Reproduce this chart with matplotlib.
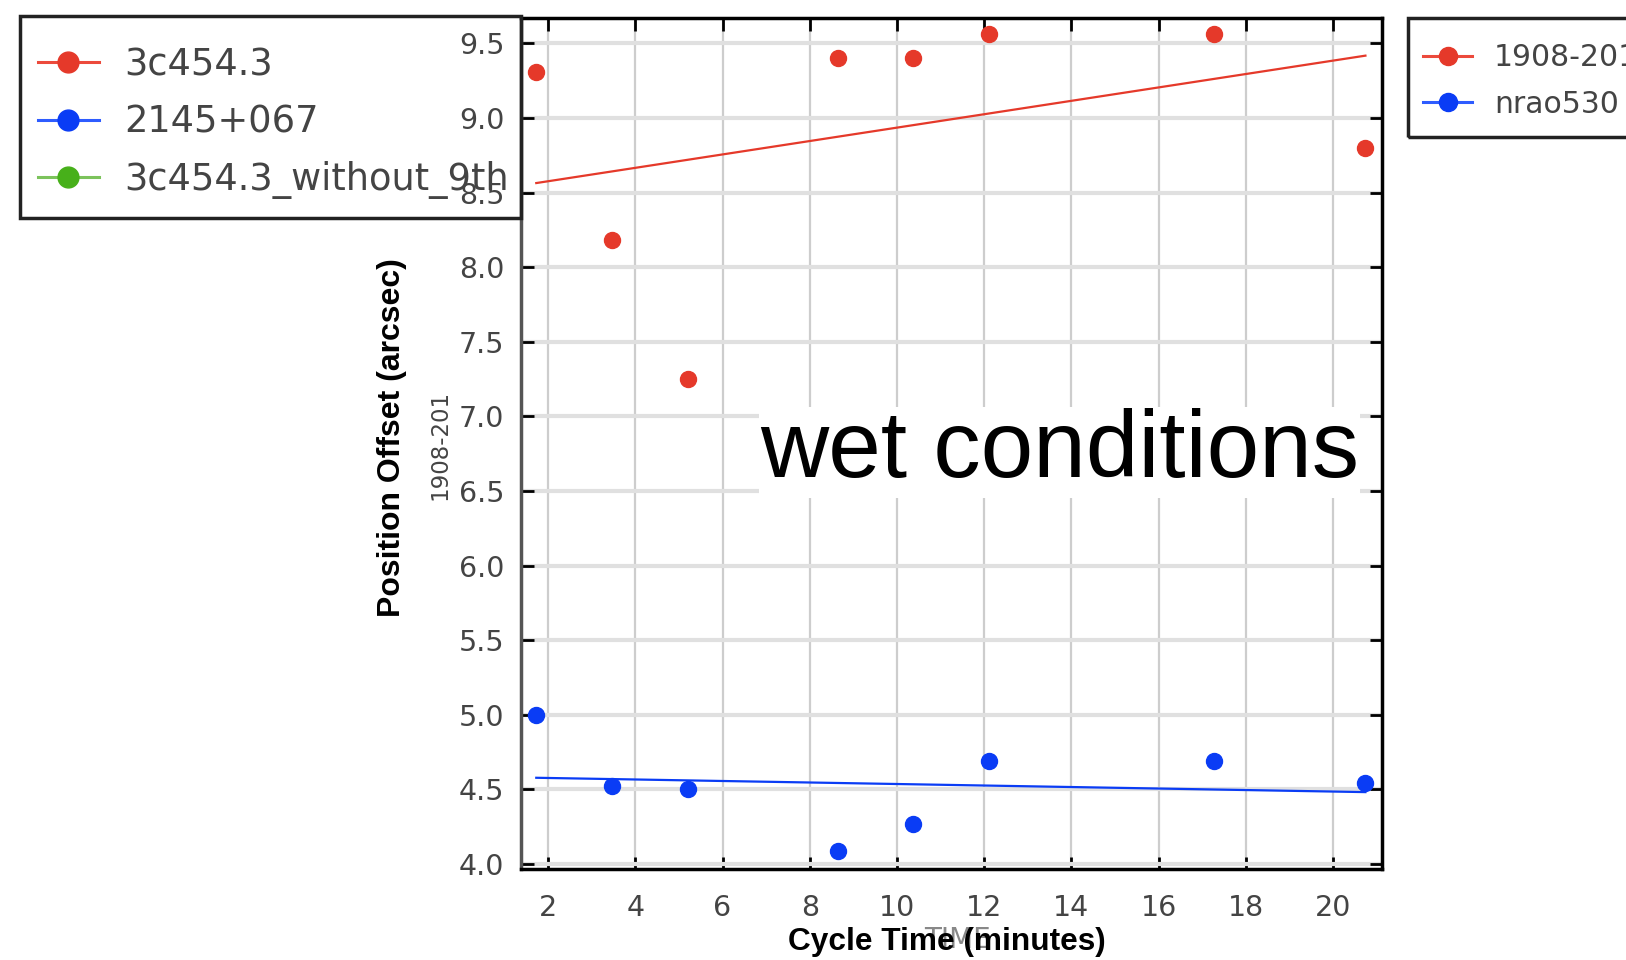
import numpy as np
import matplotlib
matplotlib.use("Agg")
import matplotlib.pyplot as plt
from matplotlib.lines import Line2D
from matplotlib.patches import Rectangle

# cycle time (minutes) for each scan
cycle_time = [1.73, 3.46, 5.20, 8.64, 10.37, 12.10, 17.26, 20.74]
# position offsets (arcsec)
offset_1908 = [9.31, 8.18, 7.25, 9.40, 9.40, 9.56, 9.56, 8.80]
offset_nrao530 = [5.00, 4.52, 4.50, 4.085, 4.27, 4.69, 4.69, 4.54]

xticks = [2, 4, 6, 8, 10, 12, 14, 16, 18, 20]
yticks = [4.0, 4.5, 5.0, 5.5, 6.0, 6.5, 7.0, 7.5, 8.0, 8.5, 9.0, 9.5]

left_labels = ['3c454.3', '2145+067', '3c454.3_without_9th']
right_labels = ['1908-201', 'nrao530']

red = '#e5392a'
blue = '#0a3cf5'
green = '#47b01a'
gray = '#444444'

W, H = 1626, 960
fig = plt.figure(figsize=(W / 100, H / 100), dpi=100)
ax = fig.add_axes([521 / W, 1 - 869 / H, (1382 - 521) / W, (869 - 18) / H])

x = np.array(cycle_time)
for vals, col in [(offset_1908, red), (offset_nrao530, blue)]:
    y = np.array(vals)
    ax.plot(x, y, 'o', color=col, markersize=11.5, zorder=4)
    # least squares trend line
    k, b = np.polyfit(x, y, 1)
    ax.plot([x[0], x[-1]], [k * x[0] + b, k * x[-1] + b], '-', color=col, linewidth=1.6, zorder=3)

ax.set_xlim(1.38, 21.12)
ax.set_ylim(3.967, 9.67)
ax.set_xticks(xticks)
ax.set_yticks(yticks)
ax.set_yticklabels(['%.1f' % v for v in yticks])
ax.yaxis.grid(True, color='#e0e0e0', linewidth=3)
ax.xaxis.grid(True, color='#cdcdcd', linewidth=1.6)
ax.set_axisbelow(True)
ax.tick_params(direction='in', length=9, width=2, top=True, right=True,
               labelsize=20.5, labelcolor=gray)
ax.tick_params(axis='x', pad=18)
ax.tick_params(axis='y', pad=12)
for s in ax.spines.values():
    s.set_linewidth(2.5)
ax.spines['left'].set_color('#555555')

# overlaid labels
fig.text(957 / W, 1 - 940 / H, 'TIME', color='#888888', fontsize=20, ha='center', va='center')
fig.text(440 / W, 1 - 445 / H, '1908-201', color=gray, fontsize=16.5, rotation=90, ha='center', va='center')
fig.text(392 / W, 1 - 438 / H, 'Position Offset (arcsec)', family='Liberation Sans', weight='bold',
         fontsize=23, rotation=90, ha='center', va='center')
fig.text(947 / W, 1 - 942 / H, 'Cycle Time (minutes)', family='Liberation Sans', weight='bold',
         fontsize=22.8, ha='center', va='center')

ax.text(760 / W, 1 - 477 / H, 'wet conditions', transform=fig.transFigure, family='Liberation Sans',
        fontsize=68, ha='left', va='baseline', zorder=5,
        bbox=dict(facecolor='white', edgecolor='none', pad=1))

def handles(cols, ms):
    return [Line2D([0], [0], color=c, marker='o', markersize=ms, linewidth=2.2,
                   markerfacecolor=m, markeredgecolor=m) for c, m in cols]

# legend boxes (frames drawn separately)
fig.add_artist(Rectangle((20 / W, 1 - 218 / H), 501 / W, 202 / H, transform=fig.transFigure,
                         fill=False, edgecolor='#222222', linewidth=2.5))
fig.add_artist(Rectangle((1408 / W, 1 - 137 / H), 240 / W, 119 / H, transform=fig.transFigure,
                         fill=False, edgecolor='#222222', linewidth=2.5))

fig.legend(handles([('#ec4a3c', red), ('#2e5cff', blue), ('#7cc35c', green)], 15), left_labels,
           loc='upper left', bbox_to_anchor=(38 / W, 1 - 46 / H), borderaxespad=0,
           fontsize=26.5, handlelength=1.65, handletextpad=0.7, labelspacing=0.56,
           borderpad=0, frameon=False, labelcolor=gray)

fig.legend(handles([('#ec4a3c', red), ('#2e5cff', blue)], 13), right_labels,
           loc='upper left', bbox_to_anchor=(1423 / W, 1 - 43 / H), borderaxespad=0,
           fontsize=21.5, handlelength=1.65, handletextpad=0.72, labelspacing=0.6,
           borderpad=0, frameon=False, labelcolor=gray)

fig.savefig('out.png', dpi=100)
